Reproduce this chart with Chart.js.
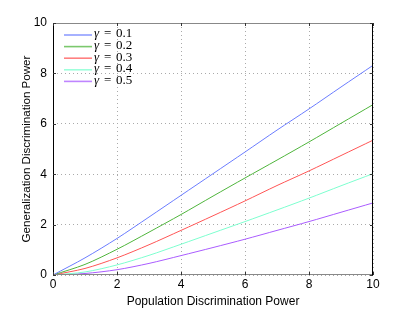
<!DOCTYPE html>
<html>
<head>
<meta charset="utf-8">
<script src="https://cdn.jsdelivr.net/npm/chart.js@4"></script>
<style>
  html, body { margin: 0; padding: 0; background: #fff; }
  #wrap { width: 411px; height: 309px; }
</style>
</head>
<body>
<div id="wrap"><canvas id="chart" width="411" height="309"></canvas></div>
<script>
// population discrimination power (x)
const xVals = [0, 1, 2, 3, 4, 5, 6, 7, 8, 9, 10];
const gammas = ['0.1', '0.2', '0.3', '0.4', '0.5'];
const g01 = [0, 0.68, 1.45, 2.30, 3.16, 4.02, 4.88, 5.75, 6.59, 7.46, 8.32];
const g02 = [0, 0.42, 1.02, 1.70, 2.40, 3.13, 3.85, 4.56, 5.28, 6.02, 6.76];
const g03 = [0, 0.26, 0.68, 1.20, 1.77, 2.35, 2.94, 3.55, 4.13, 4.74, 5.35];
const g04 = [0, 0.12, 0.40, 0.78, 1.22, 1.67, 2.12, 2.58, 3.05, 3.54, 4.02];
const g05 = [0, 0.06, 0.21, 0.46, 0.77, 1.09, 1.42, 1.77, 2.12, 2.49, 2.86];
const colors = ['#6b7dff', '#4fb53c', '#ff5555', '#7dffcf', '#aa5cff'];
const tickVals = [0, 2, 4, 6, 8, 10];

const series = [g01, g02, g03, g04, g05];

// box around plot with inward ticks, plus legend in the corner
const frame = {
  id: 'frame',
  afterDraw(chart) {
    const ctx = chart.ctx;
    const a = chart.chartArea;
    const xs = chart.scales.x, ys = chart.scales.y;
    ctx.save();
    ctx.setLineDash([]);
    ctx.lineWidth = 1;
    ctx.strokeStyle = '#888';
    ctx.beginPath();
    ctx.moveTo(a.left, a.top + 0.5); ctx.lineTo(a.right, a.top + 0.5);
    ctx.moveTo(a.left, a.bottom - 0.5); ctx.lineTo(a.right, a.bottom - 0.5);
    ctx.stroke();
    ctx.strokeStyle = '#000';
    ctx.beginPath();
    ctx.moveTo(a.left + 0.5, a.top); ctx.lineTo(a.left + 0.5, a.bottom);
    ctx.moveTo(a.right - 0.5, a.top); ctx.lineTo(a.right - 0.5, a.bottom);
    ctx.stroke();
    ctx.strokeStyle = '#333';
    ctx.beginPath();
    tickVals.forEach(v => {
      const px = Math.round(xs.getPixelForValue(v)) + 0.5;
      ctx.moveTo(px, a.bottom); ctx.lineTo(px, a.bottom - 3);
      ctx.moveTo(px, a.top); ctx.lineTo(px, a.top + 3);
      const py = Math.round(ys.getPixelForValue(v)) + 0.5;
      ctx.moveTo(a.left, py); ctx.lineTo(a.left + 3, py);
      ctx.moveTo(a.right, py); ctx.lineTo(a.right - 3, py);
    });
    ctx.stroke();

    // legend
    gammas.forEach((g, i) => {
      const y = a.top + 12 + i * 11.6;
      ctx.strokeStyle = colors[i];
      ctx.globalAlpha = 0.75;
      ctx.lineWidth = 1.6;
      ctx.beginPath();
      ctx.moveTo(a.left + 11, y);
      ctx.lineTo(a.left + 39, y);
      ctx.stroke();
      ctx.globalAlpha = 1;
      ctx.fillStyle = '#000';
      ctx.textBaseline = 'middle';
      ctx.font = 'italic 13px "Liberation Serif", serif';
      ctx.fillText('\u03b3', a.left + 41, y - 1);
      ctx.font = '13px "Liberation Serif", serif';
      ctx.fillText('=', a.left + 51, y - 1);
      ctx.fillText(g, a.left + 63, y - 1);
    });
    ctx.restore();
  }
};

const ctx = document.getElementById('chart').getContext('2d');
new Chart(ctx, {
  type: 'line',
  data: {
    datasets: series.map((s, i) => ({
      label: '\u03b3 = ' + gammas[i],
      data: xVals.map((x, j) => ({ x: x, y: s[j] })),
      borderColor: colors[i],
      borderWidth: 1,
      pointRadius: 0,
      tension: 0.3,
      fill: false
    }))
  },
  options: {
    responsive: false,
    animation: false,
    layout: { padding: { top: 23, right: 38, left: 0, bottom: 0 } },
    plugins: { legend: { display: false }, tooltip: { enabled: false } },
    scales: {
      x: {
        type: 'linear',
        min: 0,
        max: 10,
        afterFit: s => { s.height = 34; },
        ticks: { stepSize: 2, padding: 2, color: '#000', font: { family: 'Liberation Sans', size: 12 } },
        grid: { color: '#aaa', lineWidth: 1, drawTicks: false },
        border: { display: false, dash: [1, 3] },
        title: { display: true, text: 'Population Discrimination Power', color: '#000', padding: 0, font: { family: 'Liberation Sans', size: 12 } }
      },
      y: {
        type: 'linear',
        min: 0,
        max: 10,
        afterFit: s => { s.width = 53; },
        ticks: { stepSize: 2, padding: 6, color: '#000', font: { family: 'Liberation Sans', size: 12 } },
        grid: { color: '#aaa', lineWidth: 1, drawTicks: false },
        border: { display: false, dash: [1, 3] },
        title: { display: true, text: 'Generalization Discrimination Power', color: '#000', padding: { top: 20, bottom: 0 }, font: { family: 'Liberation Sans', size: 11.6 } }
      }
    }
  },
  plugins: [frame]
});
</script>
</body>
</html>
